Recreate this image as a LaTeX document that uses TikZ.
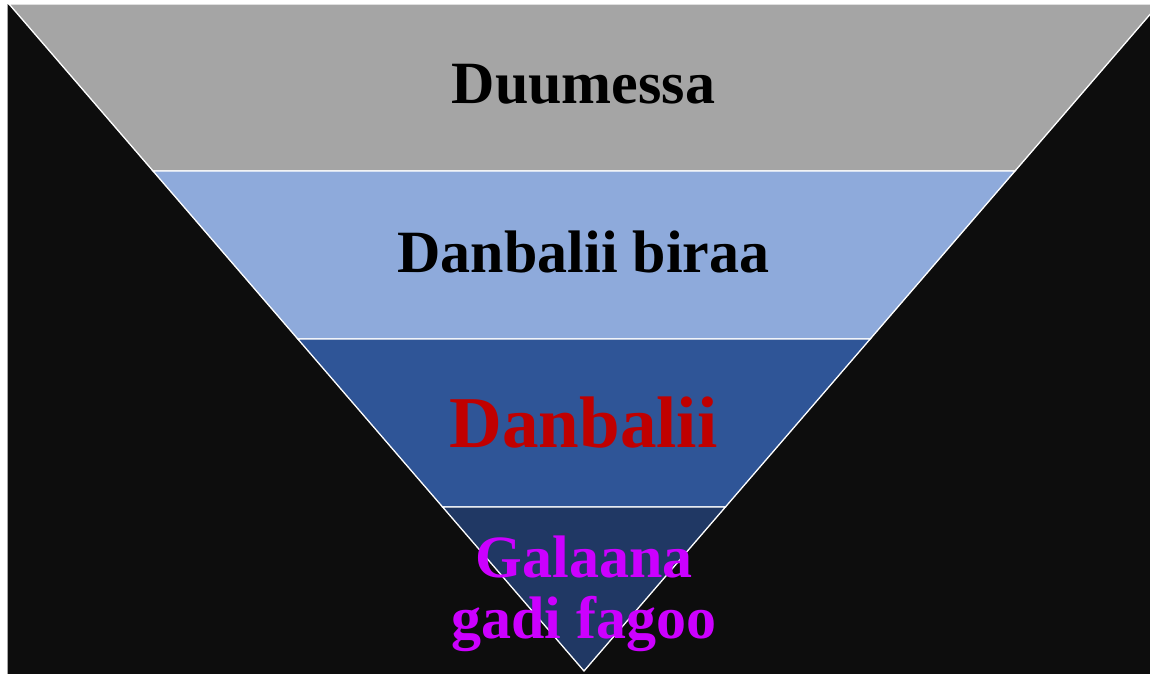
\documentclass[tikz,border=0pt]{standalone}
\usepackage{fontspec}
\setmainfont{Liberation Serif}
\definecolor{bgblack}{HTML}{0D0D0D}
\definecolor{bandgrey}{HTML}{A5A5A5}
\definecolor{bandlight}{HTML}{8EAADB}
\definecolor{bandmid}{HTML}{2F5597}
\definecolor{banddark}{HTML}{203864}
\definecolor{txtred}{HTML}{C00000}
\definecolor{txtmag}{HTML}{CC00FF}
\begin{document}
\begin{tikzpicture}[x=1pt,y=-1pt,
  band/.style={draw=white, line width=1.3pt, line join=miter},
  lbl/.style={font=\bfseries\fontsize{60}{60}\selectfont, anchor=base, inner sep=0pt},
  biglbl/.style={font=\bfseries\fontsize{73}{73}\selectfont, anchor=base, inner sep=0pt}]
\useasboundingbox (0,0) rectangle (1150,673);
\fill[white] (0,0) rectangle (1150,673);
\fill[bgblack, draw=gray!70, line width=0.8pt] (7.6,4) rectangle (1151,674);
\begin{scope}
  \clip (8,4) rectangle (1150,673);
  \coordinate (tl) at (9,4);
  \coordinate (tr) at (1159,4);
  \coordinate (l1) at (153,171);
  \coordinate (r1) at (1015,171);
  \coordinate (l2) at (297.8,339);
  \coordinate (r2) at (870.2,339);
  \coordinate (l3) at (442.6,507);
  \coordinate (r3) at (725.4,507);
  \coordinate (apex) at (584,671);
  \filldraw[band, fill=bandgrey] (tl) -- (tr) -- (r1) -- (l1) -- cycle;
  \filldraw[band, fill=bandlight] (l1) -- (r1) -- (r2) -- (l2) -- cycle;
  \filldraw[band, fill=bandmid] (l2) -- (r2) -- (r3) -- (l3) -- cycle;
  \filldraw[band, fill=banddark] (l3) -- (r3) -- (apex) -- cycle;
\end{scope}
\node[lbl] (t1) at (583.5,103) {Duumessa};
\node[lbl] (t2) at (583.5,272) {Danbalii biraa};
\node[biglbl, text=txtred] (t3) at (583.5,447) {Danbalii};
\node[lbl, text=txtmag] (t4a) at (584,577) {Galaana};
\node[lbl, text=txtmag] (t4b) at (584,638) {gadi fagoo};
\end{tikzpicture}
\end{document}
